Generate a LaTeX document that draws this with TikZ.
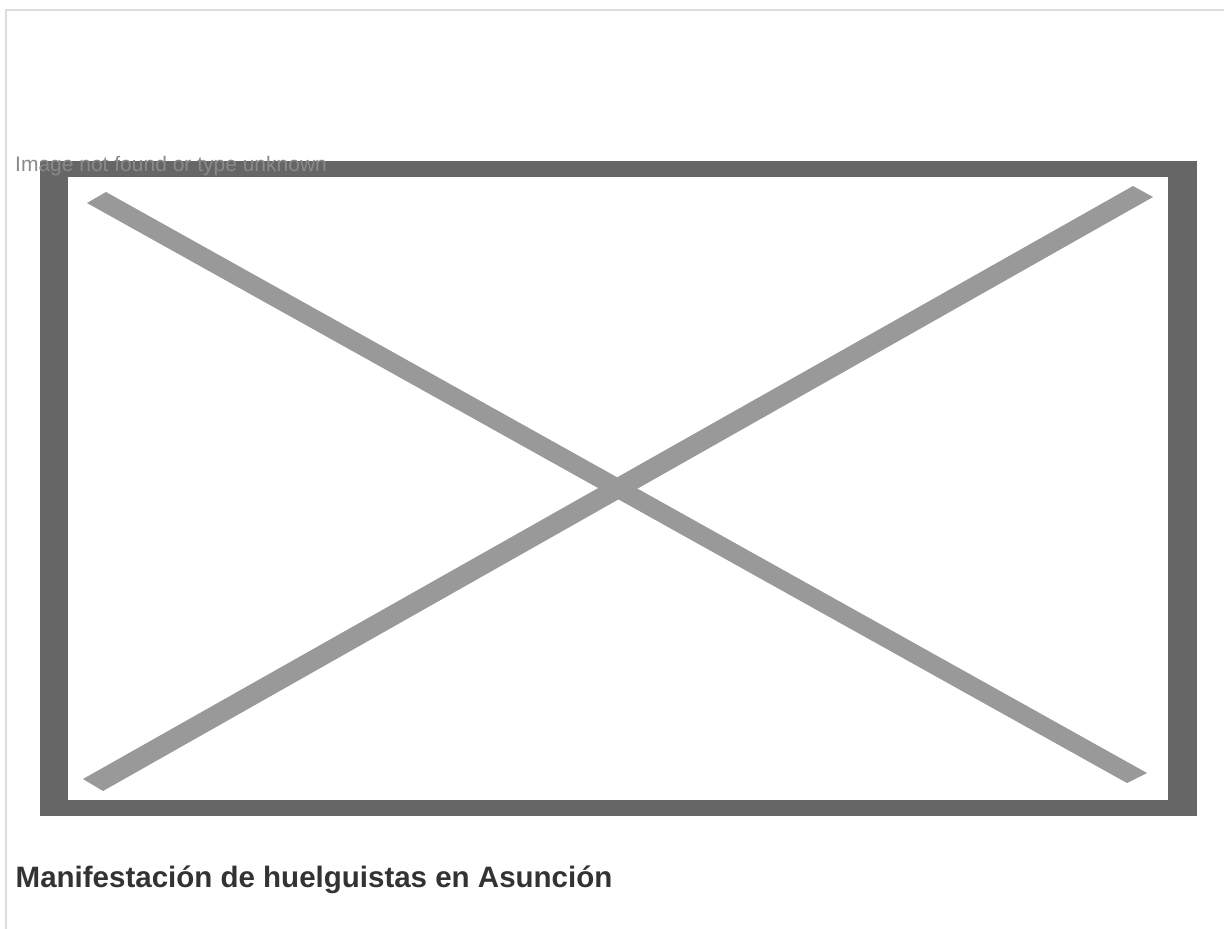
\documentclass[tikz,border=0pt]{standalone}
\usepackage{fontspec}
\setmainfont{Liberation Sans}
\definecolor{edgegray}{HTML}{DDDDDD}
\definecolor{framegray}{HTML}{666666}
\definecolor{crossgray}{HTML}{999999}
\definecolor{alttext}{HTML}{8A8A8A}
\definecolor{captext}{HTML}{333333}
\tikzset{
  outline/.style={draw=edgegray, line width=2pt},
  framefill/.style={fill=framegray},
  crossbar/.style={fill=crossgray},
  alttxt/.style={anchor=base west, inner sep=0pt, text=alttext, font=\fontsize{21}{25}\selectfont},
  captxt/.style={anchor=base west, inner sep=0pt, text=captext, font=\fontsize{29.5}{35}\selectfont\bfseries}
}
\begin{document}
\begin{tikzpicture}[x=1pt,y=-1pt]
\useasboundingbox (0,0) rectangle (1224,929);
\fill[white] (0,0) rectangle (1224,929);
% outer light border (top and left)
\draw[outline] (5.5,929) -- (5.5,10) -- (1224,10);
% broken-image frame
\fill[framefill] (40,161) rectangle (1197,816);
\fill[white] (68,177) rectangle (1168,800);
% the X
\fill[crossbar] (106,192) -- (1147,773) -- (1127,783) -- (87,203) -- cycle;
\fill[crossbar] (83,779) -- (1133,186) -- (1153,197) -- (103,791) -- cycle;
% texts
\node[alttxt] (alt) at (15,171) {Image not found or type unknown};
\node[captxt] (cap) at (15.5,887) {Manifestación de huelguistas en Asunción};
\end{tikzpicture}
\end{document}
